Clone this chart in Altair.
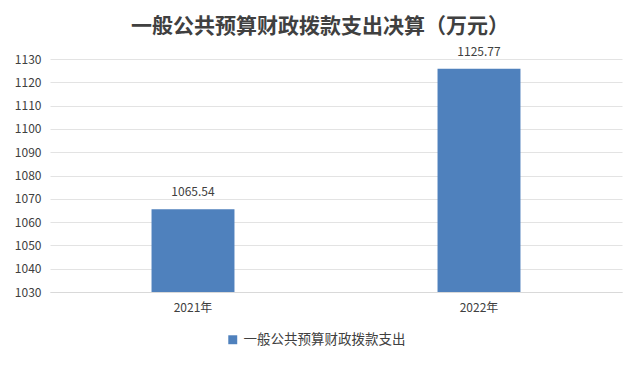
import altair as alt
import pandas as pd

years = ["2021年", "2022年"]
values = [1065.54, 1125.77]
series = "一般公共预算财政拨款支出"
title = "一般公共预算财政拨款支出决算（万元）"
y_ticks = [1030, 1040, 1050, 1060, 1070, 1080, 1090, 1100, 1110, 1120, 1130]

df = pd.DataFrame({"year": years, "value": values, "series": [series] * len(years)})
df["label"] = df["value"].map(lambda v: f"{v:.2f}")

font = "Noto Sans CJK SC"

yscale = alt.Scale(domain=[1030, 1130], nice=False, zero=False, clamp=True)
yaxis = alt.Axis(values=y_ticks, format="d", labelOverlap=False,
                 ticks=False, domain=False, labelPadding=9, labelFontSize=12,
                 labelColor="#404040", labelFont=font, gridColor="#e3e3e3")

base = alt.Chart(df).encode(
    x=alt.X("year:N", title=None, sort=years,
            scale=alt.Scale(paddingInner=0.71, paddingOuter=0.355),
            axis=alt.Axis(labelAngle=0, ticks=False, labelPadding=10, labelFontSize=12,
                          labelColor="#404040", labelFont=font, domainColor="#d9d9d9",
                          grid=False)),
)

bars = base.mark_bar(color="#4f81bd").encode(
    y=alt.Y("value:Q", title=None, scale=yscale, axis=yaxis),
    y2=alt.datum(1030),
    color=alt.Color("series:N", scale=alt.Scale(range=["#4f81bd"]),
                    legend=alt.Legend(title=None, orient="none", legendX=176, legendY=274,
                                      symbolType="square", symbolSize=80,
                                      symbolStrokeWidth=0, labelFontSize=13.5,
                                      labelLimit=400,
                                      labelFont=font, labelColor="#404040")),
)

labels = base.mark_text(dy=-17, fontSize=12, color="#404040", font=font).encode(
    y=alt.Y("value:Q", title=None, scale=yscale, axis=yaxis),
    text="label:N",
)

chart = (bars + labels).properties(
    width=572, height=233,
    background="white",
    autosize=alt.AutoSizeParams(type="none"),
    padding={"left": 42, "top": 51, "right": 10, "bottom": 65},
    title=alt.TitleParams(title, fontSize=21, font=font, fontWeight="bold",
                          color="#404040", anchor="middle", offset=9, dx=-16),
).configure_view(stroke=None)

chart.save("out.html", embed_options={"renderer": "svg", "actions": False})
